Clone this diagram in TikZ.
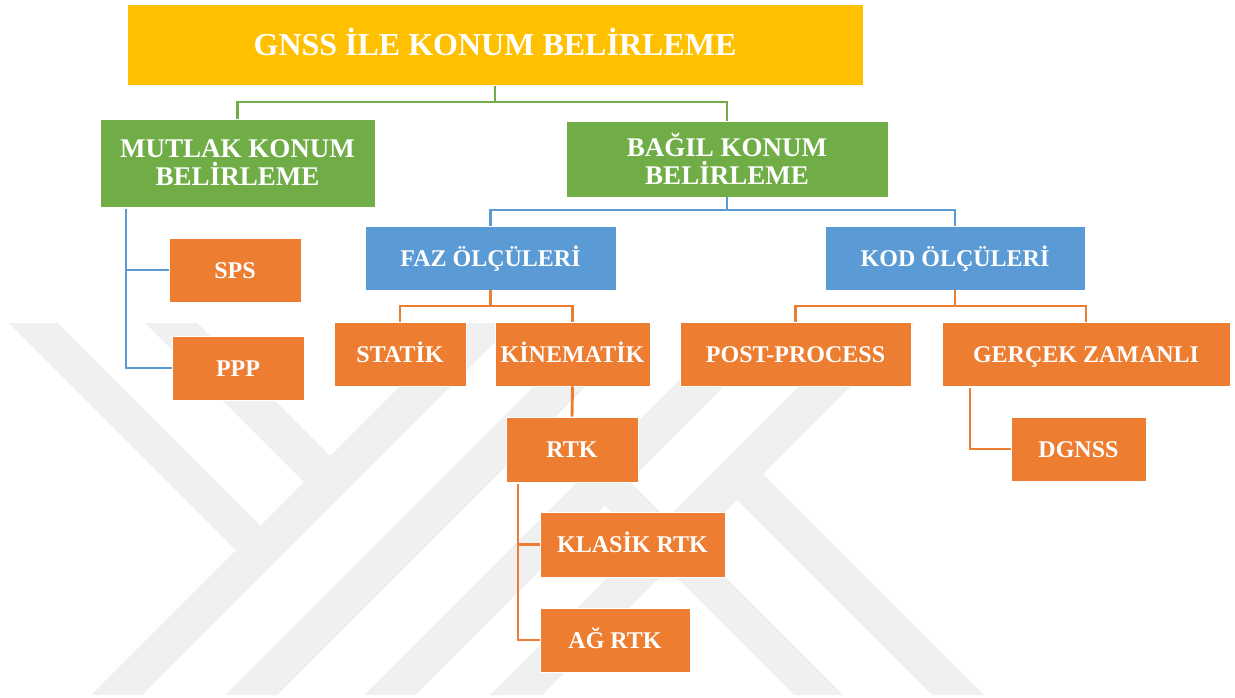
\documentclass[tikz,border=0pt]{standalone}
\usepackage{fontspec}
\setmainfont{Liberation Serif}
\usetikzlibrary{calc}
\definecolor{cyellow}{HTML}{FFC000}
\definecolor{cgreen}{HTML}{70AD47}
\definecolor{cblue}{HTML}{5B9BD5}
\definecolor{corange}{HTML}{ED7D31}
\definecolor{cwm}{HTML}{F0F0F0}
\begin{document}
\begin{tikzpicture}[x=1pt,y=-1pt,
  box/.style={draw=white,line width=0.8pt,inner sep=0pt,align=center,text=white,font=\bfseries},
  titlebox/.style={box,fill=cyellow,font=\bfseries\fontsize{32}{36}\selectfont,text height=21pt,text depth=0pt},
  greenbox/.style={box,fill=cgreen,font=\bfseries\fontsize{27}{28}\selectfont},
  bluebox/.style={box,fill=cblue,font=\bfseries\fontsize{24}{28}\selectfont,text height=16pt,text depth=0pt},
  orangebox/.style={box,fill=corange,font=\bfseries\fontsize{24}{28}\selectfont,text height=16pt,text depth=0pt},
  gline/.style={draw=cgreen,line width=2.9pt},
  bline/.style={draw=cblue,line width=2.9pt},
  oline/.style={draw=corange,line width=2.9pt},
  wm/.style={fill=cwm}]
\useasboundingbox (0,0) rectangle (1235,698);
% watermark
\begin{scope}
\clip (0,323) rectangle (1235,695);
\fill[wm] (9,323) -- (58,323) -- (260.5,525.5) -- (236,550) -- cycle;
\fill[wm] (145,323) -- (197,323) -- (330,456) -- (304,482) -- cycle;
\fill[wm] (463,323) -- (514,323) -- (142,695) -- (91,695) -- cycle;
\fill[wm] (597,323) -- (649,323) -- (277,695) -- (225,695) -- cycle;
\fill[wm] (736,323) -- (787,323) -- (415,695) -- (364,695) -- cycle;
\fill[wm] (862,323) -- (914,323) -- (542,695) -- (490,695) -- cycle;
\fill[wm] (604.5,505.5) -- (629,481) -- (843,695) -- (794,695) -- cycle;
\fill[wm] (737,500) -- (763,474) -- (984,695) -- (932,695) -- cycle;
\end{scope}
% nodes
\node[titlebox,minimum width=736pt,minimum height=81pt] (title) at (495,45) {GNSS İLE KONUM BELİRLEME};
\node[greenbox,minimum width=275pt,minimum height=88pt] (mutlak) at (237.5,163) {MUTLAK KONUM\\BELİRLEME};
\node[greenbox,minimum width=322pt,minimum height=76pt] (bagil) at (727,159) {BAĞIL KONUM\\BELİRLEME};
\node[bluebox,minimum width=251pt,minimum height=64pt] (faz) at (490.5,258) {FAZ ÖLÇÜLERİ};
\node[bluebox,minimum width=260pt,minimum height=64pt] (kod) at (955,258) {KOD ÖLÇÜLERİ};
\node[orangebox,minimum width=132pt,minimum height=64pt] (sps) at (235,270) {SPS};
\node[orangebox,minimum width=132pt,minimum height=64pt] (ppp) at (238,368) {PPP};
\node[orangebox,minimum width=132pt,minimum height=64pt] (statik) at (400,354) {STATİK};
\node[orangebox,minimum width=155pt,minimum height=64pt] (kin) at (572.5,354) {KİNEMATİK};
\node[orangebox,minimum width=231pt,minimum height=64pt] (post) at (795.5,354) {POST-PROCESS};
\node[orangebox,minimum width=288pt,minimum height=64pt] (gercek) at (1086,354) {GERÇEK ZAMANLI};
\node[orangebox,minimum width=135pt,minimum height=64pt] (dgnss) at (1078.5,449) {DGNSS};
\node[orangebox,minimum width=132pt,minimum height=65pt] (rtk) at (572,449.5) {RTK};
\node[orangebox,minimum width=185pt,minimum height=65pt] (klasik) at (632.5,544.5) {KLASİK RTK};
\node[orangebox,minimum width=150pt,minimum height=64pt] (ag) at (615,640) {AĞ RTK};
% connectors
\coordinate (j0) at (495,102);
\draw[gline] (title.south) -- (j0);
\draw[gline] (j0) -| (mutlak.north);
\draw[gline] (j0) -| (bagil.north);
\coordinate (m0) at (126,209);
\draw[bline] (m0) |- (sps.west);
\draw[bline] (m0) |- (ppp.west);
\coordinate (j1) at (727,210);
\draw[bline] (bagil.south) -- (j1);
\draw[bline] (j1) -| (faz.north);
\draw[bline] (j1) -| (kod.north);
\coordinate (j2) at (490.5,306);
\draw[oline] (faz.south) -- (j2);
\draw[oline] (j2) -| (statik.north);
\draw[oline] (j2) -| (kin.north);
\coordinate (j3) at (955,306);
\draw[oline] (kod.south) -- (j3);
\draw[oline] (j3) -| (post.north);
\draw[oline] (j3) -| (gercek.north);
\coordinate (g0) at (970,388);
\draw[oline] (g0) |- (dgnss.west);
\draw[oline] (kin.south) -- (rtk.north);
\coordinate (r0) at (518,484);
\draw[oline] (r0) |- (klasik.west);
\draw[oline] (r0) |- (ag.west);
\end{tikzpicture}
\end{document}
